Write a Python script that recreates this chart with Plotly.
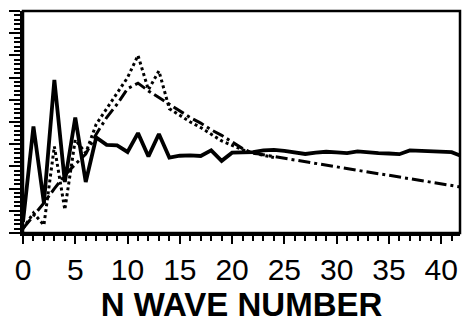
import plotly.graph_objects as go

# Wave numbers 0..42
wave_n = list(range(43))

# Solid curve
solid_vals = [0.5, 4.8, 1.35, 6.9, 2.3, 5.2, 2.3, 4.3, 3.97, 3.95,
              3.65, 4.5, 3.45, 4.46, 3.4, 3.48, 3.5, 3.47, 3.72, 3.25,
              3.62, 3.62, 3.64, 3.72, 3.74, 3.7, 3.62, 3.56, 3.62, 3.66,
              3.63, 3.6, 3.68, 3.63, 3.6, 3.58, 3.55, 3.72, 3.7, 3.68,
              3.66, 3.64, 3.45]

# Dotted curve (ends near n = 24)
dotted_n = list(range(25))
dotted_vals = [0.2, 0.9, 0.35, 3.9, 1.05, 4.2, 3.6, 4.9, 5.6, 6.3,
               7.0, 8.0, 6.45, 7.3, 5.6, 5.3, 5.0, 4.75, 4.45, 4.15,
               3.95, 3.75, 3.6, 3.5, 3.4]

# Dash-dot curve
dashdot_vals = [0.2, 0.75, 1.35, 2.0, 2.6, 3.1, 3.55, 4.45, 5.2, 5.8,
                6.5, 6.75, 6.4, 6.1, 5.8, 5.5, 5.2, 4.95, 4.65, 4.4,
                4.1, 3.8, 3.6, 3.52, 3.44, 3.36, 3.28, 3.2, 3.12, 3.04,
                2.96, 2.88, 2.8, 2.74, 2.67, 2.6, 2.52, 2.44, 2.37, 2.3,
                2.22, 2.14, 2.06]

x_tick_vals = [0, 5, 10, 15, 20, 25, 30, 35, 40]
x_tick_text = ["0", "5", "10", "15", "20", "25", "30", "35", "40"]

fig = go.Figure()
fig.add_trace(go.Scatter(x=wave_n, y=dashdot_vals, mode="lines",
                         line=dict(color="black", width=3, dash="12px,4px,3px,4px")))
fig.add_trace(go.Scatter(x=dotted_n, y=dotted_vals, mode="lines",
                         line=dict(color="black", width=3, dash="3px,3px")))
fig.add_trace(go.Scatter(x=wave_n, y=solid_vals, mode="lines",
                         line=dict(color="black", width=3.8)))

fig.update_layout(
    width=465, height=324,
    margin=dict(l=23, r=5, t=11, b=91),
    paper_bgcolor="white", plot_bgcolor="white",
    showlegend=False,
    font=dict(family="Liberation Sans, Arial, sans-serif", color="black"),
    xaxis=dict(
        range=[0, 41.8], showgrid=False, zeroline=False,
        showline=True, linewidth=3, linecolor="black",
        tickmode="array", tickvals=x_tick_vals, ticktext=x_tick_text,
        ticks="outside", ticklen=8, tickwidth=2, tickcolor="black",
        tickfont=dict(size=30),
        minor=dict(dtick=1, ticks="outside", ticklen=5, tickwidth=1.5,
                   tickcolor="black", showgrid=False),
        title=dict(text="<b>N WAVE NUMBER</b>", standoff=8,
                   font=dict(size=33)),
    ),
    yaxis=dict(
        range=[0, 10], showgrid=False, zeroline=False,
        showline=True, linewidth=3, linecolor="black",
        dtick=1, ticks="outside", ticklen=11, tickwidth=2, tickcolor="black",
        showticklabels=False,
        minor=dict(dtick=0.2, ticks="outside", ticklen=6, tickwidth=1.5,
                   tickcolor="black", showgrid=False),
    ),
    shapes=[dict(type="rect", xref="paper", yref="paper", x0=0, x1=1, y0=0, y1=1,
                 line=dict(color="black", width=2.5), layer="above")],
)

fig.write_html("out.html")
